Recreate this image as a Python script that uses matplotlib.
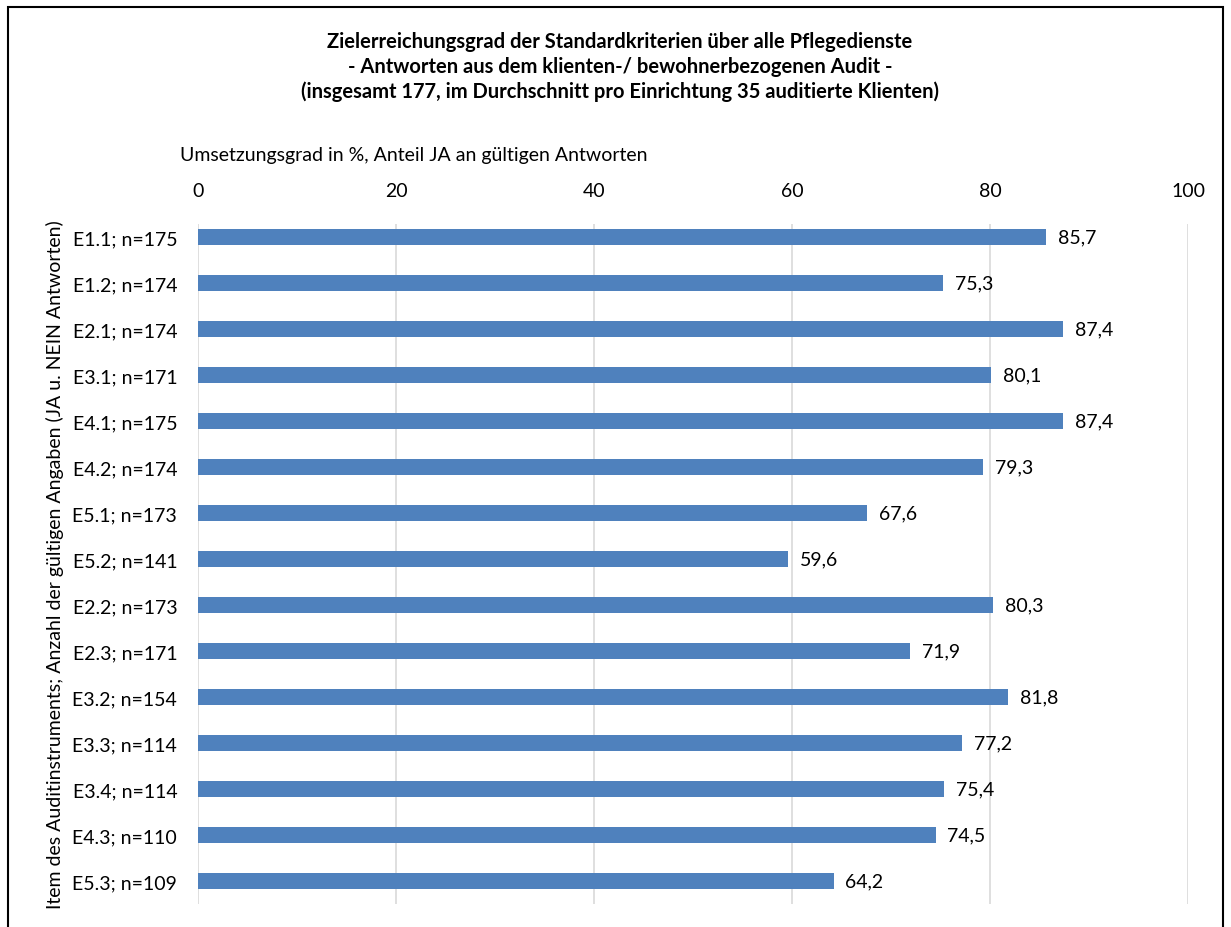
import matplotlib.pyplot as plt
from matplotlib.patches import Rectangle

# data
items = ["E1.1; n=175", "E1.2; n=174", "E2.1; n=174", "E3.1; n=171", "E4.1; n=175",
         "E4.2; n=174", "E5.1; n=173", "E5.2; n=141", "E2.2; n=173", "E2.3; n=171",
         "E3.2; n=154", "E3.3; n=114", "E3.4; n=114", "E4.3; n=110", "E5.3; n=109"]
values = [85.7, 75.3, 87.4, 80.1, 87.4, 79.3, 67.6, 59.6, 80.3, 71.9, 81.8, 77.2, 75.4, 74.5, 64.2]
xticks = [0, 20, 40, 60, 80, 100]

plt.rcParams['font.family'] = ['Lato', 'DejaVu Sans']
fs = 14

fig = plt.figure(figsize=(12.31, 9.28), dpi=100)
ax = fig.add_axes([198/1231, 1-905/928, 990/1231, 680/928])

pos = list(range(len(items)))
ax.barh(pos, values, height=0.35, color="#4f81bd", zorder=3)
for p, v in zip(pos, values):
    ax.text(v + 1.2, p, ("%.1f" % v).replace(".", ","), va="center", ha="left", fontsize=fs)

ax.set_xlim(0, 100)
ax.set_ylim(len(items) - 1 + 23/46, -13/46)
ax.set_xticks(xticks)
ax.set_xticklabels([str(t) for t in xticks], fontsize=fs)
ax.xaxis.tick_top()
ax.set_yticks(pos)
ax.set_yticklabels(items, fontsize=fs)
ax.tick_params(length=0, pad=15)
ax.tick_params(axis="x", pad=18)
ax.grid(axis="x", color="#d9d9d9", linewidth=1.2, zorder=0)
for s in ax.spines.values():
    s.set_visible(False)

ax.set_ylabel("Item des Auditinstruments; Anzahl der gültigen Angaben (JA u. NEIN Antworten)",
              fontsize=fs)
ax.yaxis.set_label_coords(-134/990, 0.5)
fig.text(180/1231, 1-155/928, "Umsetzungsgrad in %, Anteil JA an gültigen Antworten",
         fontsize=fs, va="center", ha="left")

title = ("Zielerreichungsgrad der Standardkriterien über alle Pflegedienste\n"
         "- Antworten aus dem klienten-/ bewohnerbezogenen Audit -\n"
         "(insgesamt 177, im Durchschnitt pro Einrichtung 35 auditierte Klienten)")
fig.text(620/1231, 1-67/928, title, fontsize=14.5, fontweight="bold",
         ha="center", va="center", linespacing=1.3)

# outer frame of the chart (bottom edge lies outside the picture)
fig.patches.append(Rectangle((8/1231, -0.05), 1215/1231, 1.05 - 8/928, transform=fig.transFigure,
                             fill=False, edgecolor="black", linewidth=1.5))

plt.savefig("out.png", dpi=100)
